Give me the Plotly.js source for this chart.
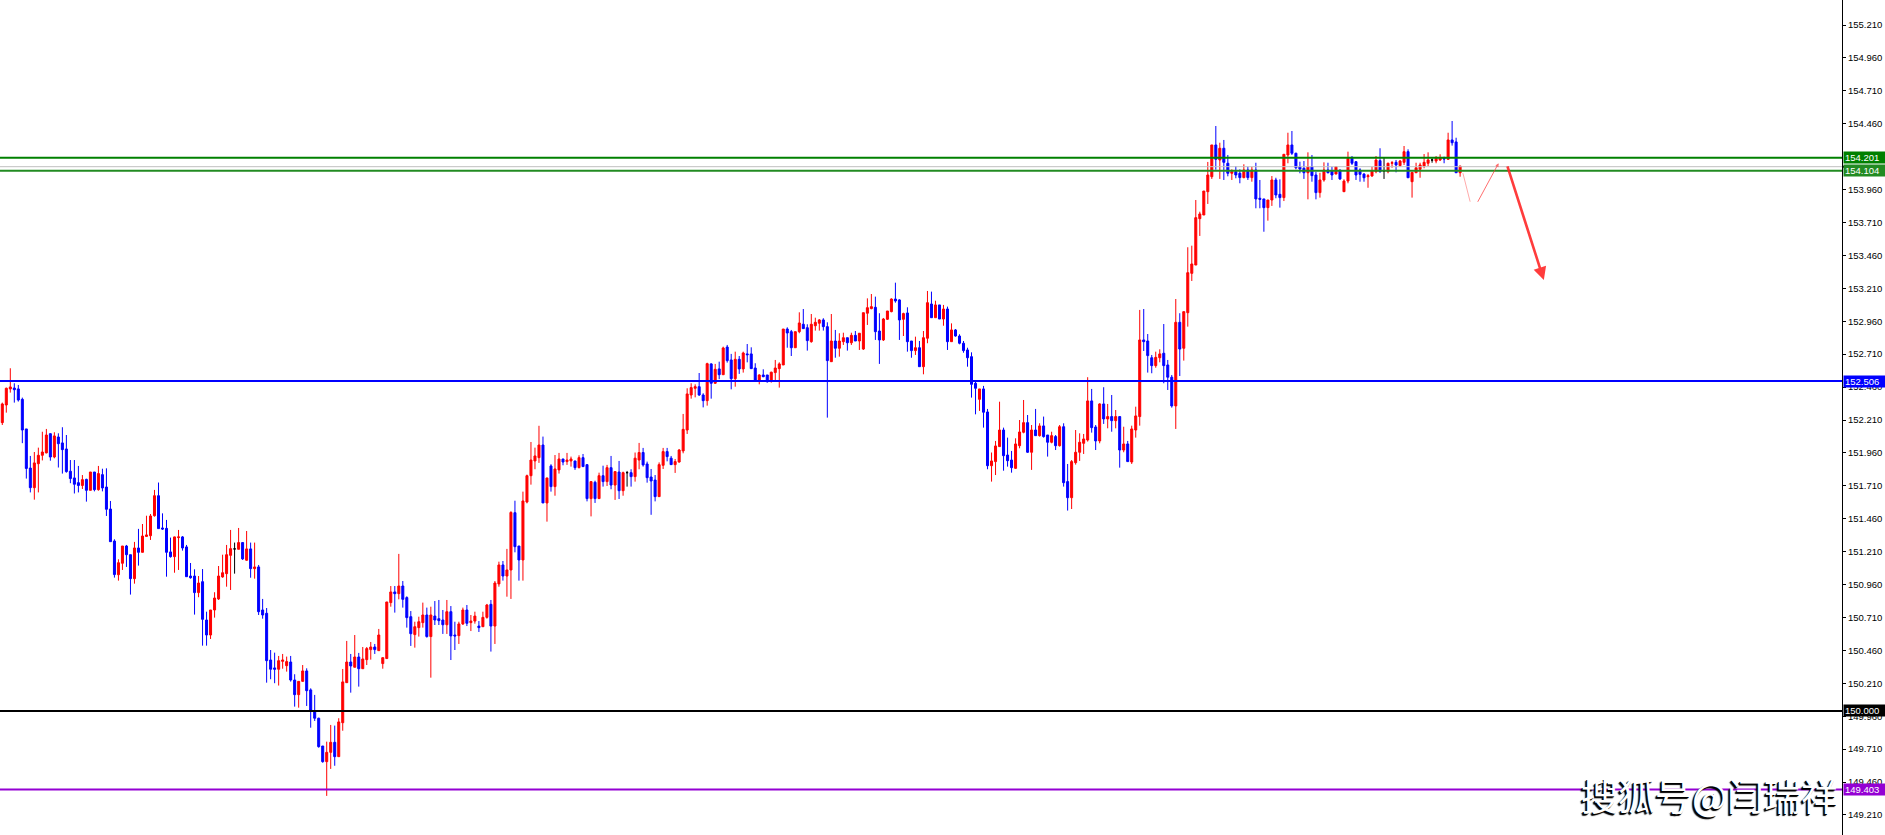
<!DOCTYPE html>
<html><head><meta charset="utf-8">
<script src="https://cdn.plot.ly/plotly-3.0.1.min.js"></script>
<style>html,body{margin:0;padding:0;background:#fff;overflow:hidden}#chart{width:1885px;height:835px}</style>
</head><body><div id="chart"></div>
<script>
const openP = [
152.190,152.324,152.446,152.453,152.446,152.367,152.142,151.845,151.696,151.878,
151.942,151.960,152.106,151.929,152.081,152.036,151.990,151.821,151.770,151.734,
151.713,151.759,151.676,151.815,151.681,151.795,151.701,151.534,151.291,151.035,
151.122,151.253,151.187,151.005,151.238,151.205,151.326,151.331,151.483,151.635,
151.390,151.387,151.208,151.172,151.317,151.322,151.246,151.025,151.025,150.899,
150.982,150.691,150.577,150.767,150.851,151.018,151.043,151.182,151.231,151.228,
151.279,151.145,151.231,151.081,151.094,150.767,150.742,150.387,150.327,150.317,
150.377,150.344,150.372,150.235,150.124,150.225,150.304,150.160,150.002,149.945,
149.734,149.615,149.686,149.762,149.653,149.911,150.215,150.372,150.332,150.410,
150.321,150.390,150.466,150.486,150.458,150.360,150.398,150.823,150.904,150.891,
150.949,150.861,150.716,150.580,150.633,150.671,150.729,150.565,150.721,150.701,
150.691,150.655,150.754,150.577,150.572,150.661,150.767,150.671,150.683,150.645,
150.640,150.711,150.810,150.645,150.965,151.109,151.025,151.071,151.506,151.253,
151.147,151.587,151.787,151.899,151.924,152.020,151.580,151.861,151.704,151.831,
151.914,151.894,151.899,151.899,151.848,151.924,151.871,151.613,151.737,151.613,
151.787,151.742,151.848,151.716,151.815,151.673,151.810,151.810,151.780,151.906,
151.963,151.876,151.777,151.754,151.628,151.866,151.970,151.920,151.871,151.891,
151.975,152.134,152.400,152.451,152.463,152.400,152.357,152.636,152.489,152.598,
152.554,152.764,152.666,152.524,152.671,152.598,152.712,152.712,152.605,152.514,
152.552,152.552,152.509,152.570,152.600,152.628,152.901,152.881,152.759,152.881,
152.937,152.911,152.805,152.926,152.945,152.970,152.919,152.653,152.810,152.755,
152.805,152.835,152.797,152.853,152.810,152.749,153.021,153.056,153.066,152.886,
152.818,152.975,153.033,153.129,153.122,152.975,153.023,152.810,152.737,152.759,
152.615,152.831,153.091,152.987,153.084,152.977,153.053,152.805,152.894,152.848,
152.793,152.742,152.691,152.489,152.367,152.446,152.271,151.863,151.894,152.008,
152.134,151.944,151.906,151.843,152.015,152.117,152.190,151.965,152.134,152.091,
152.165,152.096,152.041,152.084,152.015,152.159,151.742,151.620,151.886,151.965,
152.033,152.058,152.355,152.157,152.051,152.332,152.218,152.236,152.205,152.236,
151.982,152.028,151.891,152.134,152.236,152.818,152.810,152.683,152.623,152.683,
152.717,152.628,152.535,152.317,152.952,152.755,153.025,153.324,153.387,153.739,
153.767,153.944,154.058,154.299,154.185,154.274,154.160,154.084,154.096,154.084,
154.051,154.109,154.051,154.109,153.894,153.889,153.823,153.881,154.033,153.924,
153.899,154.223,154.299,154.236,154.134,154.122,154.088,154.134,154.071,153.937,
154.033,154.109,154.101,154.078,154.109,153.944,154.025,154.198,154.172,154.109,
154.078,154.058,154.063,154.096,154.180,154.101,154.096,154.160,154.167,154.142,
154.167,154.248,154.020,154.088,154.114,154.139,154.160,154.185,154.177,154.185,
154.198,154.190,154.337,154.322,154.088];

const highP = [
152.342,152.456,152.603,152.489,152.476,152.380,152.142,151.937,151.967,152.000,
152.121,152.142,152.109,152.117,152.109,152.155,152.096,151.906,151.906,151.861,
151.792,151.764,151.815,151.815,151.861,151.840,151.843,151.595,151.304,151.152,
151.253,151.261,151.187,151.284,151.383,151.420,151.483,151.496,151.679,151.735,
151.501,151.451,151.317,151.324,151.375,151.329,151.261,151.124,151.076,151.025,
151.078,150.754,150.767,150.902,151.101,151.187,151.261,151.375,151.279,151.390,
151.282,151.367,151.279,151.279,151.109,150.851,150.782,150.463,150.443,150.418,
150.433,150.413,150.418,150.279,150.225,150.349,150.324,150.172,150.122,149.949,
149.734,149.767,149.894,149.889,149.945,150.319,150.532,150.433,150.577,150.441,
150.486,150.486,150.524,150.509,150.623,150.405,150.828,150.949,150.949,151.193,
150.987,150.871,150.759,150.678,150.716,150.823,150.785,150.792,150.835,150.843,
150.767,150.843,150.797,150.678,150.678,150.785,150.805,150.729,150.754,150.683,
150.754,150.813,150.843,150.987,151.134,151.139,151.231,151.517,151.597,151.253,
151.666,151.795,152.043,152.000,152.166,152.084,151.770,151.874,151.944,151.960,
151.914,151.960,151.932,151.899,151.942,151.952,151.871,151.742,151.749,151.810,
151.863,151.869,151.937,151.818,151.899,151.818,151.823,151.836,151.963,152.036,
151.998,151.894,151.838,151.792,151.888,151.998,151.998,151.937,151.914,151.990,
152.256,152.451,152.489,152.481,152.567,152.413,152.645,152.641,152.636,152.653,
152.767,152.780,152.712,152.729,152.696,152.729,152.787,152.762,152.641,152.557,
152.595,152.552,152.577,152.666,152.648,152.901,152.914,152.894,152.881,153.028,
153.053,152.937,153.015,152.987,152.977,152.983,152.952,153.015,152.894,152.869,
152.873,152.835,152.873,152.886,152.869,153.025,153.134,153.167,153.147,153.021,
152.985,153.038,153.134,153.253,153.127,153.025,153.066,152.810,152.843,152.810,
152.886,153.190,153.185,153.116,153.084,153.084,153.071,152.944,152.901,152.861,
152.810,152.759,152.724,152.501,152.446,152.469,152.294,151.963,152.051,152.349,
152.152,152.076,151.975,152.071,152.210,152.362,152.248,152.172,152.294,152.185,
152.236,152.096,152.121,152.096,152.172,152.185,151.876,151.906,152.134,152.109,
152.104,152.535,152.446,152.172,152.337,152.459,152.332,152.400,152.286,152.236,
152.159,152.051,152.167,152.311,153.046,153.053,152.863,152.704,152.729,152.747,
152.939,152.666,152.552,153.129,153.021,153.033,153.522,153.534,153.881,153.792,
153.949,154.170,154.299,154.443,154.316,154.337,154.223,154.114,154.139,154.114,
154.152,154.134,154.134,154.164,154.033,153.889,153.881,154.063,154.050,154.038,
154.228,154.392,154.405,154.240,154.172,154.177,154.243,154.223,154.096,154.088,
154.167,154.164,154.134,154.134,154.109,154.038,154.248,154.215,154.172,154.122,
154.084,154.078,154.134,154.215,154.274,154.202,154.164,154.177,154.185,154.185,
154.291,154.266,154.091,154.164,154.164,154.230,154.243,154.198,154.215,154.228,
154.210,154.392,154.481,154.354,154.139];

const lowP = [
152.172,152.266,152.418,152.342,152.350,152.034,151.765,151.660,151.605,151.660,
151.903,151.957,151.901,151.919,151.849,151.803,151.810,151.730,151.652,151.660,
151.686,151.590,151.676,151.668,151.673,151.668,151.481,151.286,151.013,150.990,
151.071,151.094,150.884,150.967,151.104,151.205,151.326,151.299,151.476,151.385,
151.375,151.020,151.165,151.050,151.071,151.218,151.020,151.005,150.732,150.864,
150.496,150.496,150.547,150.709,150.843,151.012,150.944,150.919,151.043,151.228,
151.147,151.142,151.012,151.005,150.729,150.701,150.215,150.241,150.211,150.193,
150.321,150.299,150.223,150.033,150.025,150.223,150.038,149.873,149.924,149.721,
149.607,149.355,149.560,149.584,149.653,149.850,150.215,150.139,150.332,150.185,
150.321,150.349,150.390,150.433,150.458,150.321,150.398,150.792,150.747,150.848,
150.785,150.633,150.494,150.481,150.565,150.633,150.557,150.253,150.653,150.653,
150.585,150.585,150.387,150.463,150.509,150.653,150.645,150.607,150.663,150.600,
150.640,150.701,150.451,150.509,150.944,150.990,150.868,150.851,151.205,150.990,
150.990,151.577,151.719,151.836,151.884,151.580,151.438,151.666,151.635,151.803,
151.866,151.869,151.856,151.831,151.843,151.856,151.592,151.478,151.580,151.613,
151.704,151.709,151.684,151.603,151.610,151.635,151.704,151.704,151.742,151.836,
151.856,151.734,151.490,151.592,151.628,151.838,151.896,151.871,151.808,151.886,
151.957,152.104,152.372,152.382,152.393,152.306,152.319,152.372,152.484,152.520,
152.554,152.646,152.443,152.463,152.560,152.570,152.648,152.600,152.514,152.481,
152.535,152.494,152.494,152.501,152.456,152.628,152.759,152.696,152.759,152.869,
152.904,152.737,152.797,152.889,152.889,152.889,152.228,152.653,152.683,152.691,
152.780,152.737,152.780,152.810,152.742,152.742,152.932,153.051,152.818,152.636,
152.810,152.970,153.028,153.101,152.818,152.848,152.729,152.683,152.704,152.615,
152.557,152.793,152.987,152.987,152.977,152.926,152.742,152.805,152.843,152.785,
152.721,152.615,152.380,152.253,152.279,152.152,151.836,151.742,151.792,152.008,
151.825,151.856,151.810,151.838,151.995,152.109,151.960,151.831,152.091,152.084,
152.076,151.932,152.033,151.982,152.008,151.704,151.522,151.534,151.871,151.899,
151.952,152.046,152.114,151.982,152.033,152.180,152.147,152.121,152.147,151.848,
151.965,151.894,151.876,152.076,152.167,152.734,152.570,152.565,152.607,152.648,
152.489,152.438,152.304,152.142,152.544,152.661,152.919,153.266,153.387,153.608,
153.767,153.851,154.041,154.111,154.041,154.033,154.061,154.033,154.046,154.008,
154.046,154.033,154.020,153.818,153.818,153.640,153.724,153.836,153.894,153.823,
153.873,154.160,154.223,154.114,154.084,154.041,153.886,154.020,153.886,153.899,
154.020,154.084,154.033,154.078,154.033,153.944,154.008,154.147,154.033,154.020,
154.020,153.974,154.058,154.084,154.088,154.041,154.084,154.126,154.091,154.134,
154.147,154.050,153.899,154.088,154.050,154.122,154.139,154.164,154.160,154.177,
154.160,154.185,154.294,154.088,154.058];

const closeP = [
152.332,152.451,152.461,152.440,152.362,152.134,151.842,151.696,151.884,151.942,
151.967,152.096,151.929,152.089,152.030,151.985,151.818,151.765,151.722,151.713,
151.757,151.676,151.815,151.681,151.803,151.694,151.532,151.286,151.036,151.126,
151.253,151.187,151.005,151.238,151.205,151.329,151.337,151.481,151.635,151.385,
151.382,151.205,151.172,151.322,151.322,151.238,151.020,151.012,150.899,150.972,
150.696,150.577,150.767,150.858,151.025,151.050,151.187,151.233,151.231,151.279,
151.155,151.231,151.081,151.094,150.754,150.729,150.382,150.317,150.317,150.382,
150.387,150.375,150.235,150.124,150.225,150.304,150.154,150.003,149.945,149.729,
149.615,149.686,149.762,149.653,149.917,150.221,150.372,150.342,150.410,150.321,
150.395,150.474,150.486,150.466,150.577,150.405,150.828,150.904,150.891,150.949,
150.848,150.709,150.587,150.640,150.678,150.729,150.565,150.729,150.691,150.686,
150.655,150.754,150.570,150.570,150.661,150.767,150.666,150.683,150.721,150.633,
150.711,150.805,150.645,150.972,151.109,151.025,151.071,151.508,151.248,151.147,
151.595,151.787,151.906,151.937,152.020,151.580,151.770,151.704,151.838,151.914,
151.891,151.906,151.914,151.848,151.924,151.856,151.613,151.742,151.613,151.787,
151.742,151.848,151.716,151.818,151.673,151.810,151.810,151.780,151.920,151.963,
151.869,151.772,151.747,151.628,151.871,151.970,151.932,151.871,151.894,151.982,
152.139,152.408,152.456,152.463,152.400,152.357,152.638,152.489,152.595,152.554,
152.757,152.661,152.524,152.671,152.598,152.719,152.706,152.600,152.514,152.552,
152.539,152.501,152.573,152.605,152.636,152.901,152.871,152.759,152.881,152.947,
152.904,152.813,152.937,152.952,152.970,152.919,152.661,152.810,152.755,152.810,
152.835,152.797,152.853,152.810,152.869,153.025,153.063,153.071,152.881,152.818,
152.977,153.038,153.129,153.114,152.970,153.018,152.805,152.737,152.759,152.615,
152.835,153.101,152.987,153.084,152.977,153.053,152.805,152.894,152.848,152.793,
152.737,152.683,152.481,152.451,152.446,152.269,151.863,151.899,152.013,152.134,
151.939,151.901,151.848,152.028,152.119,152.190,151.965,152.134,152.091,152.165,
152.084,152.041,152.091,152.015,152.159,151.734,151.620,151.894,151.965,152.041,
152.066,152.355,152.152,152.051,152.332,152.218,152.236,152.205,152.236,151.982,
152.028,151.894,152.142,152.241,152.818,152.805,152.699,152.623,152.686,152.712,
152.623,152.535,152.317,152.952,152.749,153.033,153.329,153.395,153.747,153.775,
153.949,154.071,154.299,154.190,154.274,154.167,154.084,154.096,154.071,154.051,
154.109,154.051,154.109,153.889,153.886,153.823,153.881,154.033,153.919,153.899,
154.228,154.299,154.236,154.126,154.116,154.088,154.134,154.066,153.937,154.033,
154.109,154.088,154.071,154.134,154.041,154.025,154.198,154.160,154.071,154.076,
154.050,154.066,154.101,154.185,154.096,154.101,154.160,154.164,154.147,154.177,
154.248,154.050,154.091,154.126,154.147,154.167,154.185,154.185,154.198,154.202,
154.193,154.337,154.316,154.088,154.139];

const tickValues = [149.21,149.46,149.71,149.96,150.21,150.46,150.71,150.96,151.21,151.46,151.71,151.96,152.21,152.46,152.71,152.96,153.21,153.46,153.71,153.96,154.46,154.71,154.96,155.21];
const tickLabels = ['149.210','149.460','149.710','149.960','150.210','150.460','150.710','150.960','151.210','151.460','151.710','151.960','152.210','152.460','152.710','152.960','153.210','153.460','153.710','153.960','154.460','154.710','154.960','155.210'];

const levelPrices = [154.201, 154.104, 152.506, 150.000, 149.403];
const levelLabels = ['154.201', '154.104', '152.506', '150.000', '149.403'];
const levelColors = ['#008000', '#228b22', '#0000ff', '#000000', '#9400d3'];
const bidPrice = 154.134;
const watermark = '搜狐号@闫瑞祥';

// hand-drawn forecast arrows: [fromIndex, fromPrice, toIndex, toPrice]
const arrowPaths = [
  [364.6, 154.096, 366.5, 153.868],
  [368.2, 153.856, 373.6, 154.160],
  [375.7, 154.147, 384.9, 153.273]
];

const idx = openP.map((_, i) => i);
const isDoji = i => openP[i] === closeP[i];
const pick = (arr, keep) => arr.filter((_, i) => keep(i));
const normal = i => !isDoji(i);

const traces = [
  {
    type: 'candlestick',
    x: pick(idx, normal), open: pick(openP, normal), high: pick(highP, normal),
    low: pick(lowP, normal), close: pick(closeP, normal),
    increasing: {line: {color: '#ff0000', width: 1}, fillcolor: '#ff0000'},
    decreasing: {line: {color: '#0000ff', width: 1}, fillcolor: '#0000ff'},
    whiskerwidth: 0, hoverinfo: 'skip', showlegend: false
  },
  {
    type: 'candlestick',
    x: pick(idx, isDoji), open: pick(openP, isDoji), high: pick(highP, isDoji),
    low: pick(lowP, isDoji), close: pick(closeP, isDoji),
    increasing: {line: {color: '#000000', width: 1}, fillcolor: '#000000'},
    decreasing: {line: {color: '#000000', width: 1}, fillcolor: '#000000'},
    whiskerwidth: 0, hoverinfo: 'skip', showlegend: false
  }
];

const shapes = [
  {type: 'line', xref: 'paper', yref: 'y', x0: 0, x1: 1, y0: bidPrice, y1: bidPrice,
   line: {color: '#c0c0c0', width: 1}}
];
levelPrices.forEach((p, k) => {
  shapes.push({type: 'line', xref: 'paper', yref: 'y', x0: 0, x1: 1, y0: p, y1: p,
    line: {color: levelColors[k], width: 2}});
});
shapes.push({type: 'line', xref: 'paper', yref: 'y', x0: 1.0005, x1: 1.0235, y0: bidPrice, y1: bidPrice,
  line: {color: '#000000', width: 2}});

const annotations = levelPrices.map((p, k) => ({
  xref: 'paper', x: 1, xanchor: 'left', xshift: 1,
  yref: 'y', y: p, yanchor: 'middle',
  text: levelLabels[k], showarrow: false, bgcolor: levelColors[k],
  font: {family: 'Liberation Sans, Arial, sans-serif', size: 9.5, color: '#ffffff'},
  width: 39, height: 9, borderpad: 1, align: 'left'
}));

const arrowStyles = [
  {arrowhead: 0, arrowwidth: 1, arrowcolor: 'rgba(255,70,70,0.45)', arrowsize: 1},
  {arrowhead: 2, arrowwidth: 1, arrowcolor: 'rgba(255,50,50,0.7)', arrowsize: 0.7},
  {arrowhead: 2, arrowwidth: 2.6, arrowcolor: 'rgba(255,40,40,0.9)', arrowsize: 1}
];
arrowPaths.forEach((a, k) => {
  annotations.push(Object.assign({
    xref: 'x', yref: 'y', axref: 'x', ayref: 'y',
    ax: a[0], ay: a[1], x: a[2], y: a[3],
    text: '', showarrow: true, standoff: 0, startstandoff: 0
  }, arrowStyles[k]));
});

annotations.push({
  xref: 'paper', yref: 'paper', x: 0.928, y: 0.048, xanchor: 'center', yanchor: 'middle',
  text: watermark, showarrow: false,
  font: {family: 'Noto Sans CJK SC, sans-serif', size: 37, color: '#ffffff',
         shadow: '-1px 1px 0px #000, -2px 2px 1px #000'}
});

const layout = {
  width: 1885, height: 835,
  margin: {l: 0, r: 43, t: 0, b: 0, pad: 0},
  paper_bgcolor: '#ffffff', plot_bgcolor: '#ffffff',
  showlegend: false, hovermode: false,
  boxgap: 0.5, boxgroupgap: 0,
  xaxis: {range: [-0.575, 459.35], visible: false, showgrid: false, zeroline: false,
          rangeslider: {visible: false}, fixedrange: true},
  yaxis: {side: 'right', range: [149.058, 155.400], tickmode: 'array',
          tickvals: tickValues, ticktext: tickLabels,
          ticks: 'outside', ticklen: 3, tickcolor: '#000', tickwidth: 1,
          showline: true, linecolor: '#000', linewidth: 1,
          showgrid: false, zeroline: false, fixedrange: true,
          tickfont: {family: 'Liberation Sans, Arial, sans-serif', size: 9.5, color: '#000'}},
  shapes: shapes,
  annotations: annotations
};

Plotly.newPlot('chart', traces, layout, {staticPlot: true, displayModeBar: false});
</script>
</body></html>
